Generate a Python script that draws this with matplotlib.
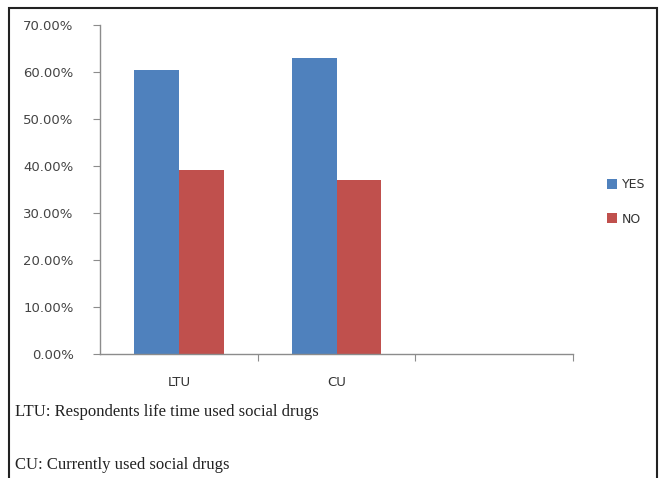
import numpy as np
import matplotlib.pyplot as plt
import matplotlib.patches as patches
from matplotlib.ticker import PercentFormatter

# categories and response shares (percent)
groups = ['LTU', 'CU', '']
yes_pct = [60.5, 63.0, 0.0]
no_pct = [39.2, 37.0, 0.0]
legend_labels = ['YES', 'NO']
notes = ['LTU: Respondents life time used social drugs',
         'CU: Currently used social drugs']

blue = '#4F81BD'
red = '#C0504D'
axis_grey = '#8C8C8C'

fig = plt.figure(figsize=(6.61, 4.78), dpi=100)
ax = fig.add_axes([100 / 661, 1 - 354 / 478, 473 / 661, 329 / 478])

x = np.arange(len(groups))
w = 0.285
b1 = ax.bar(x - w / 2, yes_pct, w, color=blue, label=legend_labels[0])
b2 = ax.bar(x + w / 2, no_pct, w, color=red, label=legend_labels[1])

ax.set_xlim(-0.5, len(groups) - 0.5)
ax.set_ylim(0, 70)
ax.set_yticks(np.arange(0, 71, 10))
ax.yaxis.set_major_formatter(PercentFormatter(decimals=2))

# category labels sit between the tick marks
ax.set_xticks(x + 0.5)
ax.set_xticklabels([])
ax.set_xticks(x, minor=True)
ax.set_xticklabels(groups, minor=True)
ax.tick_params(axis='x', which='minor', length=0, pad=16, labelsize=9.5, labelcolor='#333333')
ax.tick_params(axis='x', which='major', length=5, color=axis_grey, direction='out')
ax.tick_params(axis='y', length=5, color=axis_grey, labelsize=9.5, labelcolor='#444444', pad=14)

for side in ['top', 'right']:
    ax.spines[side].set_visible(False)
for side in ['left', 'bottom']:
    ax.spines[side].set_color(axis_grey)
    ax.spines[side].set_linewidth(1.0)

fig.legend(handles=[b1, b2], labels=legend_labels, loc='center left',
           bbox_to_anchor=(596 / 661, 1 - 202 / 478), frameon=False,
           fontsize=9, handlelength=0.8, handleheight=0.8, handletextpad=0.35,
           labelspacing=1.7, labelcolor='#333333')

# outer frame around the chart and notes
frame = patches.Rectangle((9 / 661, -0.05), 648 / 661, 1.05 - 8 / 478,
                          transform=fig.transFigure, fill=False,
                          edgecolor='#222222', linewidth=1.5)
fig.patches.append(frame)

fig.text(15 / 661, 1 - 412 / 478, notes[0], fontsize=12, family='Liberation Serif',
         color='#222222', va='center')
fig.text(15 / 661, 1 - 465 / 478, notes[1], fontsize=12, family='Liberation Serif',
         color='#222222', va='center')

fig.savefig('out.png', dpi=100)
